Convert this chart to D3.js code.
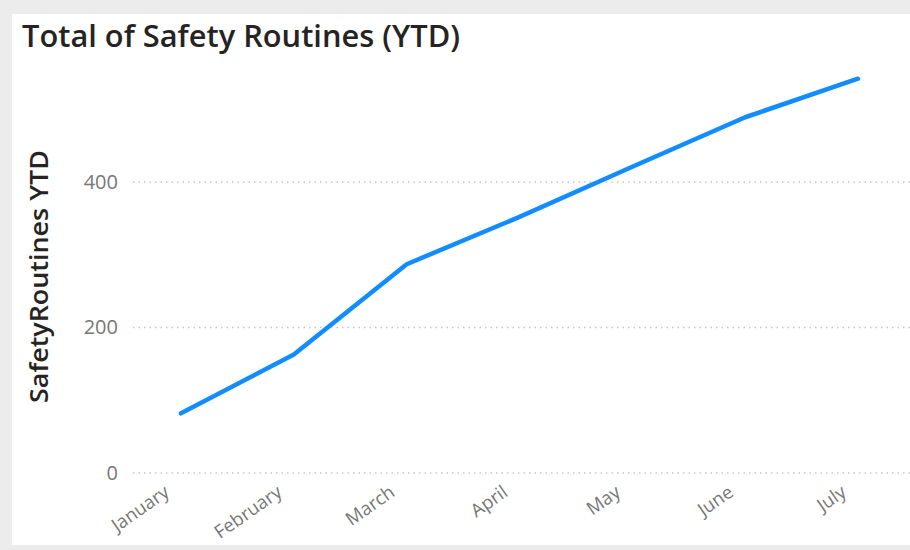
<!DOCTYPE html>
<html>
<head>
<meta charset="utf-8">
<script src="https://cdn.jsdelivr.net/npm/d3@7"></script>
<style>
  html, body { margin: 0; padding: 0; background: #ececec; }
  svg { display: block; }
</style>
</head>
<body>
<svg id="chart" width="910" height="550"></svg>
<script>
const months = ["January", "February", "March", "April", "May", "June", "July"];
const ytdValues = [82, 163, 287, 352, 421, 489, 542];
const yTicks = [0, 200, 400];
const chartTitle = "Total of Safety Routines (YTD)";
const yAxisTitle = "SafetyRoutines YTD";

const svg = d3.select("#chart");
const W = 910, H = 550;

// card background
svg.append("rect").attr("x", 0).attr("y", 0).attr("width", W).attr("height", H).attr("fill", "#ececec");
svg.append("rect").attr("x", 12).attr("y", 14).attr("width", W - 12).attr("height", 531).attr("fill", "#ffffff");

const x = d3.scalePoint().domain(months).range([181, 858]);
const y = d3.scaleLinear().domain([0, 400]).range([473, 182]);

// title
svg.append("text")
  .attr("x", 22).attr("y", 47)
  .attr("font-family", "'Open Sans', 'Noto Sans', sans-serif")
  .attr("font-size", 31)
  .attr("font-weight", 600)
  .attr("fill", "#252423")
  .attr("textLength", 438)
  .attr("lengthAdjust", "spacingAndGlyphs")
  .text(chartTitle);

// gridlines
const grid = svg.append("g");
grid.selectAll("line").data(yTicks).join("line")
  .attr("x1", 133).attr("x2", W)
  .attr("y1", d => y(d)).attr("y2", d => y(d))
  .attr("stroke", "#c8c6c4")
  .attr("stroke-width", 1.5)
  .attr("stroke-dasharray", "1.5,4");

// y axis
const yAxis = d3.axisLeft(y).tickValues(yTicks).tickSize(0).tickPadding(0);
const yg = svg.append("g").attr("transform", "translate(118,0)").call(yAxis);
yg.select(".domain").remove();
yg.selectAll("text")
  .attr("font-family", "'Open Sans', 'Noto Sans', sans-serif")
  .attr("font-size", 20)
  .attr("fill", "#777777");

// y title
svg.append("text")
  .attr("transform", `translate(48,${(150 + 403) / 2}) rotate(-90)`)
  .attr("text-anchor", "middle")
  .attr("font-family", "'Open Sans', 'Noto Sans', sans-serif")
  .attr("font-size", 25)
  .attr("font-weight", 600)
  .attr("fill", "#252423")
  .attr("textLength", 253)
  .attr("lengthAdjust", "spacingAndGlyphs")
  .text(yAxisTitle);

// x axis
const xAxis = d3.axisBottom(x).tickSize(0).tickPadding(0);
const xg = svg.append("g").attr("transform", "translate(0,478)").call(xAxis);
xg.select(".domain").remove();
xg.selectAll("text")
  .attr("font-family", "'Open Sans', 'Noto Sans', sans-serif")
  .attr("font-size", 18.5)
  .attr("fill", "#777777")
  .attr("text-anchor", "end")
  .attr("y", 0)
  .attr("dy", 0)
  .attr("transform", "translate(-11,17) rotate(-35)");

// line
const line = d3.line()
  .x((d, i) => x(months[i]))
  .y(d => y(d));

svg.append("path")
  .datum(ytdValues)
  .attr("d", line)
  .attr("fill", "none")
  .attr("stroke", "#118DFF")
  .attr("stroke-width", 4.5)
  .attr("stroke-linejoin", "round")
  .attr("stroke-linecap", "round");
</script>
</body>
</html>
